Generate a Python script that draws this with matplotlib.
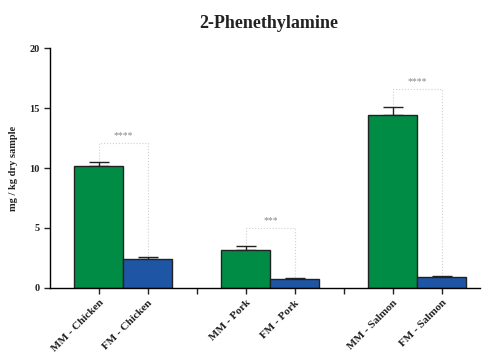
import numpy as np
import matplotlib.pyplot as plt

plt.rcParams['font.family'] = ['Liberation Serif', 'DejaVu Serif']

labels = ['MM - Chicken', 'FM - Chicken', '', 'MM - Pork', 'FM - Pork', '',
          'MM - Salmon', 'FM - Salmon']
means = [10.2, 2.4, None, 3.17, 0.78, None, 14.4, 0.92]
errors = [0.3, 0.2, None, 0.33, 0.07, None, 0.7, 0.05]
colors = ['#008C45', '#1F55A5', None, '#008C45', '#1F55A5', None, '#008C45', '#1F55A5']

# significance brackets: (left idx, right idx, height, stars)
sig_pairs = [(0, 1, 12.1, '****'), (3, 4, 5.0, '***'), (6, 7, 16.6, '****')]

fig = plt.figure(figsize=(4.84, 3.59), dpi=100)
ax = fig.add_axes([0.103, 0.198, 0.889, 0.668])

pos = np.arange(len(labels))
for i, (m, e, c) in enumerate(zip(means, errors, colors)):
    if m is None:
        continue
    ax.bar(pos[i], m, width=1.0, color=c, edgecolor='#222222', linewidth=1.0, zorder=2)
    ax.errorbar(pos[i], m, yerr=[[0], [e]], color='#222222', capsize=7,
                elinewidth=1.0, capthick=1.0, zorder=1)

for a, b, h, s in sig_pairs:
    ya = means[a] + errors[a]
    yb = means[b] + errors[b]
    ax.plot([pos[a], pos[a], pos[b], pos[b]], [ya, h, h, yb], color='#d0d0d0',
            linestyle=':', linewidth=0.8, zorder=0)
    ax.text((pos[a] + pos[b]) / 2, h + 0.25, s, ha='center', va='bottom',
            fontsize=7, color='#888888')

ax.set_xlim(-1, 7.78)
ax.set_ylim(0, 20)
ax.set_yticks([0, 5, 10, 15, 20])
ax.set_xticks(pos)
ax.set_xticklabels(labels, rotation=45, ha='right', rotation_mode='anchor',
                   fontsize=8, fontweight='bold', color='#222222')
for t in ax.get_yticklabels():
    t.set_fontweight('bold')
    t.set_fontsize(7.5)
    t.set_color('#222222')
ax.tick_params(direction='out', length=4, width=1.0, color='#222222')
ax.spines['top'].set_visible(False)
ax.spines['right'].set_visible(False)
ax.spines['left'].set_linewidth(1.0)
ax.spines['bottom'].set_linewidth(1.0)

ax.set_ylabel('mg / kg dry sample', fontsize=7.5, fontweight='bold', labelpad=8,
              color='#222222')
fig.text(0.555, 0.935, '2-Phenethylamine', ha='center', va='center',
         fontsize=13, fontweight='bold', color='#222222')

fig.savefig('out.png', dpi=100)
